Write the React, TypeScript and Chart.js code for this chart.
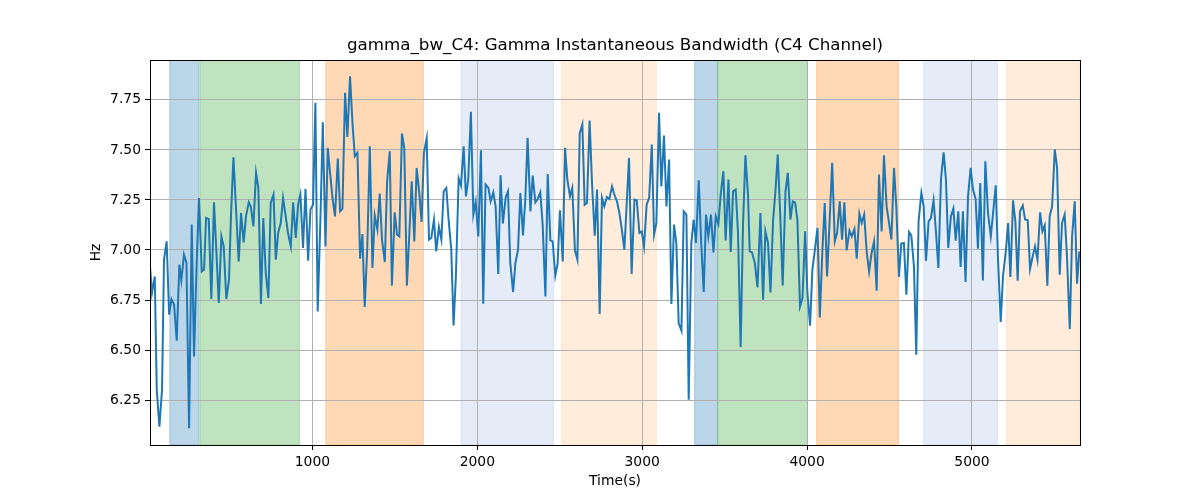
import { Chart, registerables } from "chart.js";
import { useEffect, useRef } from "react";

Chart.register(...registerables);

const chartTitle = "gamma_bw_C4: Gamma Instantaneous Bandwidth (C4 Channel)";

// sample times (s) and bandwidth values (Hz)
const times: number[] = [
  15, 27, 44, 56, 72, 88, 100, 116, 131, 145, 161, 177, 193, 205, 221, 236, 252, 268, 282, 298,
  312, 329, 343, 355, 371, 387, 403, 418, 432, 448, 462, 478, 494, 506, 521, 537, 553, 567, 583, 597,
  614, 626, 642, 658, 672, 688, 702, 717, 733,
  747, 764, 778, 792, 808, 822, 838, 852, 869, 883, 899, 913, 927, 943, 958, 974, 988, 1004, 1018, 1032,
  1049, 1063, 1079, 1093, 1107, 1123, 1137, 1154, 1168, 1182, 1198, 1212, 1228, 1243, 1257, 1273, 1289, 1303, 1317, 1333,
  1348, 1364, 1378, 1394, 1408, 1422, 1439, 1453, 1469,
  1482, 1499, 1513, 1527, 1543, 1557, 1573, 1588, 1602, 1618, 1632, 1648, 1662, 1676, 1693, 1707, 1721, 1737, 1751, 1767,
  1782, 1796, 1812, 1826, 1842, 1856, 1870, 1887, 1901, 1917, 1931, 1945, 1961, 1976, 1990, 2006, 2022, 2036, 2050, 2067,
  2081, 2097, 2111, 2127, 2141, 2155, 2172, 2186,
  2200, 2217, 2231, 2247, 2261, 2277, 2291, 2305, 2322, 2336, 2352, 2366, 2382, 2396, 2413, 2427, 2443, 2457, 2473, 2487,
  2501, 2518, 2532, 2546, 2562, 2576, 2592, 2607, 2621, 2637, 2651, 2665, 2681, 2696, 2712, 2726, 2742, 2756, 2770, 2786,
  2801, 2817, 2831, 2847, 2861, 2875, 2892, 2920,
  2936, 2953, 2967, 2983, 2997, 3011, 3027, 3042, 3058, 3072, 3086, 3102, 3116, 3132, 3147, 3163, 3177, 3193, 3207, 3221,
  3238, 3252, 3268, 3282, 3298, 3312, 3326, 3343, 3357, 3373, 3387, 3401, 3417, 3432, 3446, 3462, 3476, 3492, 3506, 3523,
  3537, 3551, 3567, 3581, 3597, 3611, 3626, 3642,
  3652, 3666, 3683, 3699, 3717, 3733, 3747, 3763, 3778, 3794, 3808, 3822, 3838, 3852, 3869, 3883, 3899, 3913, 3927, 3941,
  3957, 3972, 3988, 4002, 4018, 4032, 4046, 4063, 4077, 4093, 4107, 4121, 4137, 4152, 4168, 4182, 4198, 4212, 4226, 4240,
  4257, 4271, 4287, 4301, 4317, 4331, 4346, 4362, 4376,
  4391, 4406, 4422, 4436, 4452, 4466, 4482, 4497, 4511, 4527, 4541, 4557, 4571, 4587, 4602, 4618, 4632, 4648, 4662, 4676,
  4693, 4707, 4721, 4737, 4751, 4767, 4782, 4796, 4812, 4828, 4842, 4856, 4872, 4887, 4901, 4917, 4931, 4945, 4961, 4976,
  4992, 5006, 5022, 5036, 5050, 5066, 5081, 5097,
  5114, 5128, 5144, 5158, 5174, 5188, 5205, 5219, 5233, 5249, 5263, 5277, 5291, 5308, 5322, 5338, 5352, 5366, 5382, 5397,
  5413, 5427, 5441, 5457, 5471, 5486, 5502, 5516, 5532, 5546, 5562, 5576, 5593, 5607, 5623, 5637, 5651,
];

const bandwidth: number[] = [
  6.918, 6.785, 6.868, 6.302, 6.118, 6.302, 6.952, 7.043, 6.677, 6.755, 6.727, 6.547, 6.927, 6.848, 6.977, 6.935, 6.11, 7.127, 6.468, 6.935,
  7.26, 6.893, 6.902, 7.16, 7.155, 6.755, 7.238, 6.985, 6.735, 7.068, 7.018, 6.755, 6.851, 7.168, 7.463, 7.2, 6.943, 7.185, 7.038, 7.168,
  7.238, 7.218, 7.118, 7.385, 7.31, 6.73, 7.16, 6.885, 6.76,
  7.235, 7.277, 6.952, 7.085, 7.135, 7.26, 7.168, 7.085, 7.018, 7.238, 7.06, 7.226, 7.277, 7.01, 7.305, 6.946, 7.202, 7.226, 7.735, 6.693,
  7.168, 7.638, 7.018, 7.51, 7.385, 7.252, 7.168, 7.457, 7.193, 7.205, 7.785, 7.565, 7.868, 7.635, 7.468, 7.485, 6.957, 7.08, 6.715, 7.018,
  7.518, 6.91, 7.172, 7.102, 7.282, 7.052, 6.94, 7.343, 7.493,
  6.822, 7.188, 7.077, 7.068, 7.582, 7.51, 6.822, 7.085, 7.343, 7.043, 7.41, 7.285, 7.14, 7.485, 7.558, 7.052, 7.06, 7.152, 6.993, 7.115,
  7.052, 7.293, 7.31, 7.152, 7.002, 6.623, 6.868, 7.357, 7.322, 7.518, 7.268, 7.352, 7.69, 7.177, 7.24, 7.068, 7.498, 6.732, 7.327, 7.31,
  7.243, 7.288, 7.218, 6.88, 7.373, 7.132, 7.263, 7.293,
  6.935, 6.79, 6.935, 7.002, 7.285, 7.073, 7.252, 7.56, 7.193, 7.372, 7.238, 7.255, 7.288, 7.132, 6.768, 7.38, 7.048, 7.043, 6.872, 6.932,
  7.198, 6.943, 7.51, 7.352, 7.268, 7.31, 6.998, 6.952, 7.582, 7.627, 7.226, 7.235, 7.647, 7.327, 7.072, 7.302, 6.68, 7.26, 7.218, 7.265,
  7.255, 7.318, 7.277, 7.243, 7.188, 7.11, 7.002, 7.46,
  6.88, 7.252, 7.248, 7.085, 7.093, 7.018, 7.226, 7.26, 7.527, 7.077, 7.135, 7.685, 7.318, 7.572, 7.218, 7.452, 6.73, 7.127, 7.035, 6.635,
  6.597, 7.193, 7.177, 6.252, 7.035, 7.152, 7.035, 7.348, 7.052, 6.79, 7.177, 7.068, 7.177, 6.988, 7.168, 7.13, 7.277, 7.393, 7.048, 7.352,
  6.99, 7.293, 7.302, 7.085, 6.515, 7.118, 7.473, 7.268,
  6.993, 6.988, 6.935, 6.813, 7.185, 6.752, 7.093, 7.035, 6.788, 7.152, 7.293, 7.477, 7.152, 6.823, 7.293, 7.385, 7.152, 7.243, 7.238, 7.152,
  6.718, 6.76, 7.093, 6.785, 6.622, 6.902, 6.993, 7.11, 6.663, 7.002, 7.235, 6.868, 7.152, 7.435, 7.043, 7.085, 7.243, 7.052, 7.238, 6.998,
  7.097, 7.068, 7.105, 6.957, 7.182, 7.135, 7.177, 6.985, 6.893,
  6.985, 7.043, 6.797, 7.377, 7.093, 7.473, 7.218, 7.135, 7.052, 7.41, 7.218, 6.865, 7.032, 7.035, 6.777, 7.09, 7.073, 6.918, 6.477, 7.143,
  7.285, 7.218, 6.946, 7.143, 7.16, 7.248, 7.085, 6.91, 7.355, 7.488, 7.352, 7.01, 7.168, 7.207, 7.047, 7.193, 6.915, 7.193, 6.84, 7.268,
  7.41, 7.302, 7.255, 7.006, 7.335, 6.848, 7.443, 7.185,
  7.068, 7.185, 7.323, 6.952, 6.64, 6.868, 6.993, 7.135, 6.865, 7.248, 7.143, 6.846, 7.193, 7.222, 7.152, 7.148, 6.905, 6.96, 7.018, 6.952,
  7.188, 7.093, 7.123, 6.822, 7.168, 7.218, 7.502, 7.41, 6.877, 7.135, 7.177, 6.968, 6.605, 7.068, 7.243, 6.832, 6.993,
];

// shaded intervals (s)
const spanStarts: number[] = [135, 317, 1081, 1901, 2512, 3318, 3458, 4058, 4707, 5210];
const spanEnds: number[] = [310, 921, 1673, 2463, 3086, 3458, 4002, 4554, 5154, 5655];
const spanKinds: string[] = ["blue", "green", "orange", "lightblue", "lightorange", "blue", "green", "orange", "lightblue", "lightorange"];

const xTicks: number[] = [1000, 2000, 3000, 4000, 5000];
const yTicks: number[] = [6.25, 6.5, 6.75, 7.0, 7.25, 7.5, 7.75];

const spanColors: Record<string, string> = {
  blue: "rgba(31,119,180,0.3)",
  green: "rgba(44,160,44,0.3)",
  orange: "rgba(255,127,14,0.3)",
  lightblue: "rgba(80,130,200,0.15)",
  lightorange: "rgba(255,150,50,0.18)",
};

const FONT = "'DejaVu Sans', sans-serif";

const spansPlugin = {
  id: "spans",
  beforeDraw(chart: any) {
    const { ctx, chartArea, scales } = chart;
    const x = scales.x;
    ctx.save();
    ctx.beginPath();
    ctx.rect(chartArea.left, chartArea.top, chartArea.right - chartArea.left, chartArea.bottom - chartArea.top);
    ctx.clip();
    spanStarts.forEach((s, i) => {
      const x0 = x.getPixelForValue(s);
      const x1 = x.getPixelForValue(spanEnds[i]);
      const c = spanColors[spanKinds[i]];
      ctx.fillStyle = c;
      ctx.fillRect(x0, chartArea.top, x1 - x0, chartArea.bottom - chartArea.top);
      ctx.strokeStyle = c;
      ctx.lineWidth = 1;
      ctx.strokeRect(x0, chartArea.top, x1 - x0, chartArea.bottom - chartArea.top);
    });
    ctx.restore();
  },
  afterDraw(chart: any) {
    const { ctx, chartArea } = chart;
    ctx.save();
    ctx.strokeStyle = "#000";
    ctx.lineWidth = 1;
    ctx.strokeRect(
      Math.round(chartArea.left) + 0.5,
      Math.round(chartArea.top) + 0.5,
      Math.round(chartArea.right - chartArea.left),
      Math.round(chartArea.bottom - chartArea.top)
    );
    // title centred over the plot area, like matplotlib
    ctx.fillStyle = "#000";
    ctx.font = `16.7px ${FONT}`;
    ctx.textAlign = "center";
    ctx.textBaseline = "middle";
    ctx.fillText(chartTitle, (chartArea.left + chartArea.right) / 2, chartArea.top - 14);
    ctx.restore();
  },
};

export default function App() {
  const canvasRef = useRef<HTMLCanvasElement | null>(null);
  const chartRef = useRef<Chart | null>(null);

  useEffect(() => {
    document.body.style.margin = "0";
    if (!canvasRef.current) return;
    const ctx = canvasRef.current.getContext("2d");
    if (!ctx) return;

    chartRef.current = new Chart(ctx, {
      type: "line",
      data: {
        datasets: [
          {
            data: times.map((t, i) => ({ x: t, y: bandwidth[i] })),
            borderColor: "#1f77b4",
            borderWidth: 2,
            pointRadius: 0,
            tension: 0,
            fill: false,
          },
        ],
      },
      options: {
        animation: false,
        responsive: false,
        devicePixelRatio: 1,
        layout: { padding: { left: 0, right: 120, top: 60, bottom: 0 } },
        plugins: {
          legend: { display: false },
          tooltip: { enabled: false },
          title: { display: false },
        },
        scales: {
          x: {
            type: "linear",
            min: 15,
            max: 5655,
            afterFit: (s: any) => {
              s.height = 55;
            },
            afterBuildTicks: (s: any) => {
              s.ticks = xTicks.map((v) => ({ value: v }));
            },
            border: { display: false },
            grid: { color: "#b0b0b0", lineWidth: 1, tickColor: "#000", tickLength: 5 },
            ticks: {
              color: "#000",
              font: { family: FONT, size: 13.9 },
              padding: 4,
              maxRotation: 0,
              callback: (v: any) => String(v),
            },
            title: {
              display: true,
              text: "Time(s)",
              color: "#000",
              font: { family: FONT, size: 13.9 },
              padding: { top: 0, bottom: 10 },
            },
          },
          y: {
            type: "linear",
            min: 6.026,
            max: 7.949,
            afterFit: (s: any) => {
              s.width = 150;
            },
            afterBuildTicks: (s: any) => {
              s.ticks = yTicks.map((v) => ({ value: v }));
            },
            border: { display: false },
            grid: { color: "#b0b0b0", lineWidth: 1, tickColor: "#000", tickLength: 5 },
            ticks: {
              color: "#000",
              font: { family: FONT, size: 13.9 },
              padding: 4,
              callback: (v: any) => Number(v).toFixed(2),
            },
            title: {
              display: true,
              text: "Hz",
              color: "#000",
              font: { family: FONT, size: 13.9 },
              padding: { top: 88, bottom: 0 },
            },
          },
        },
      },
      plugins: [spansPlugin],
    });

    return () => {
      if (chartRef.current) {
        chartRef.current.destroy();
        chartRef.current = null;
      }
    };
  }, []);

  return (
    <div style={{ width: 1200, height: 500 }}>
      <canvas ref={canvasRef} width={1200} height={500} />
    </div>
  );
}
